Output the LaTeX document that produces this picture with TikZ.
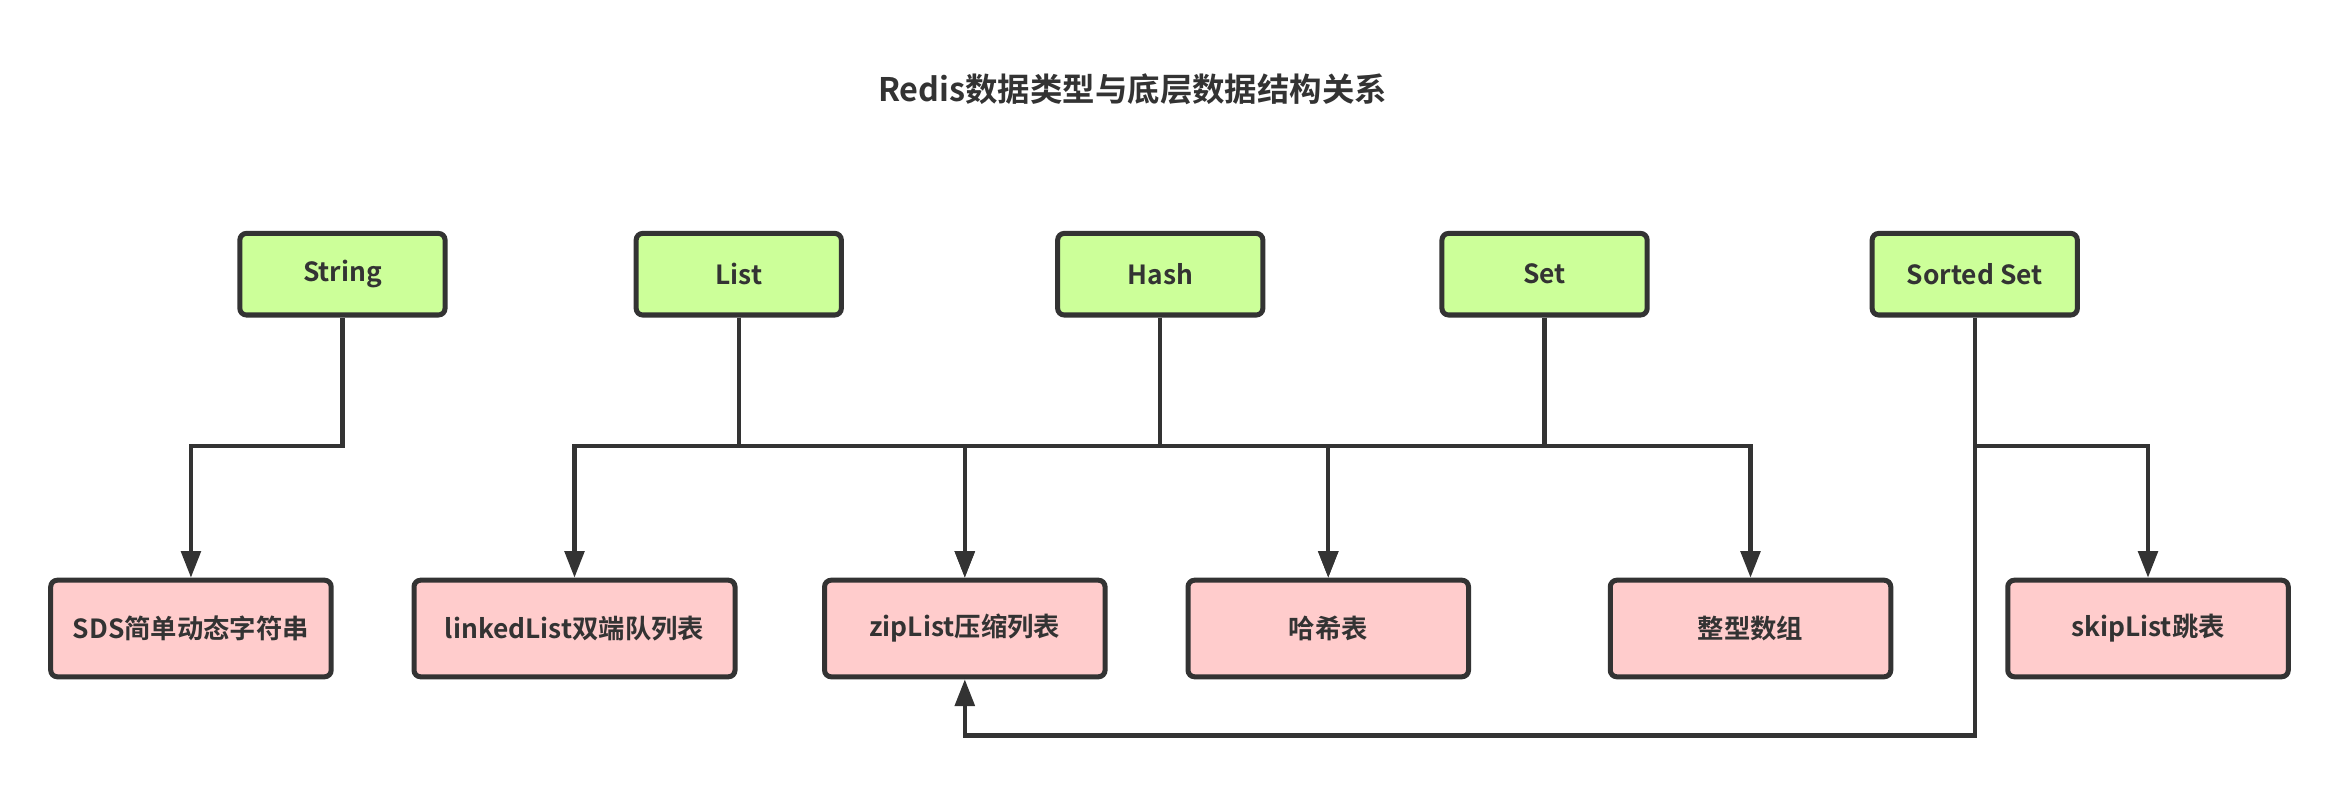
\documentclass[tikz,border=0pt]{standalone}
\usepackage{fontspec}
\setmainfont{Noto Sans CJK SC}[BoldFont={Noto Sans CJK SC Bold}]
\usetikzlibrary{arrows.meta}
\definecolor{ink}{HTML}{333333}
\definecolor{typefill}{HTML}{CCFF99}
\definecolor{structfill}{HTML}{FFCCCC}
\tikzset{typebox/.style={draw=ink, line width=1.9pt, fill=typefill, rounded corners=2.5pt,
                             minimum width=2.736cm, minimum height=1.088cm, inner sep=0pt,
                             text=ink, font=\fontsize{10pt}{12pt}\selectfont\bfseries}}
\tikzset{structbox/.style={draw=ink, line width=1.9pt, fill=structfill, rounded corners=2.5pt,
                             minimum width=3.74cm, minimum height=1.288cm, inner sep=0pt,
                             text=ink, font=\fontsize{10pt}{12pt}\selectfont\bfseries}}
\tikzset{link/.style={draw=ink, line width=1.6pt, -{Triangle[length=0.356cm,width=0.26cm]}}}

\begin{document}
\begin{tikzpicture}
                \useasboundingbox (0,0) rectangle (31.2,-10.48);

                \node[text=ink, font=\fontsize{12.3pt}{15pt}\selectfont\bfseries] (title) at (15.1,-1.19) {Redis数据类型与底层数据结构关系};

                \node[typebox] (string) at (4.566,-3.656) {String};
                \node[typebox] (list) at (9.85,-3.656) {List};
                \node[typebox] (hash) at (15.47,-3.656) {Hash};
                \node[typebox] (set) at (20.594,-3.656) {Set};
                \node[typebox] (sorted) at (26.33,-3.656) {Sorted Set};

                \node[structbox] (sds) at (2.546,-8.38) {SDS简单动态字符串};
                \node[structbox, minimum width=4.28cm] (linked) at (7.66,-8.38) {linkedList双端队列表};
                \node[structbox] (ziplist) at (12.864,-8.38) {zipList压缩列表};
                \node[structbox] (hashtable) at (17.71,-8.38) {哈希表};
                \node[structbox] (intset) at (23.34,-8.38) {整型数组};
                \node[structbox] (skiplist) at (28.64,-8.38) {skipList跳表};

                \coordinate (bus) at (0,-5.95);
                \coordinate (low) at (0,-9.808);

                \draw[link] (string) -- (string |- bus) -| (sds);
                \draw[link] (list) -- (list |- bus) -| (linked);
                \draw[link] (list) -- (list |- bus) -| (ziplist);
                \draw[link] (hash) -- (hash |- bus) -| (ziplist);
                \draw[link] (hash) -- (hash |- bus) -| (hashtable);
                \draw[link] (set) -- (set |- bus) -| (hashtable);
                \draw[link] (set) -- (set |- bus) -| (intset);
                \draw[link] (sorted) -- (sorted |- bus) -| (skiplist);
                \draw[link] (sorted) -- (sorted |- low) -| (ziplist);
\end{tikzpicture}
\end{document}
